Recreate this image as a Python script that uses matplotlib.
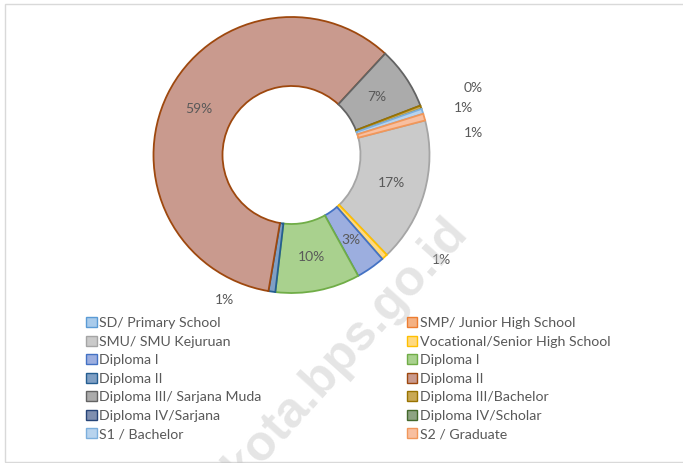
import matplotlib.pyplot as plt
import numpy as np
from matplotlib.patches import Patch, Rectangle

plt.rcParams['font.family'] = ['Lato', 'DejaVu Sans']

# share of population by education (percent)
categories = ['SD/ Primary School', 'SMP/ Junior High School', 'SMU/ SMU Kejuruan',
              'Vocational/Senior High School', 'Diploma I', 'Diploma I', 'Diploma II',
              'Diploma II', 'Diploma III/ Sarjana Muda', 'Diploma III/Bachelor',
              'Diploma IV/Sarjana', 'Diploma IV/Scholar', 'S1 / Bachelor', 'S2 / Graduate']
values = [0, 0, 16.9, 0.7, 3.4, 9.9, 0.8, 59.2, 7.3, 0.4, 0, 0, 0.6, 0.8]

fills = ['#A9CBEB', '#F4B183', '#CACACA', '#FFD980', '#9CAEDF', '#A9D18E', '#7F9FC4',
         '#C99A8E', '#ABABAB', '#C9A955', '#7F8FB0', '#8EA383', '#B7D3EE', '#F8BFA0']
edges = ['#5B9BD5', '#ED7D31', '#A5A5A5', '#FFC000', '#4472C4', '#70AD47', '#255E91',
         '#9E480E', '#636363', '#997300', '#264478', '#43682B', '#7CAFDD', '#F1975A']

# outside labels: (angle shift in deg clockwise, radius)
outside = {3: (-12.6, 1.33), 6: (16.5, 1.16), 9: (0, 1.40), 12: (3, 1.29), 13: (9, 1.33)}

W, H = 683, 463
cx, cy, R = 291.5, 155, 138
L = 1.05

fig = plt.figure(figsize=(W / 100, H / 100), dpi=100)
fig.set_facecolor('white')

ax = fig.add_axes([(cx - L * R) / W, (H - cy - L * R) / H, 2 * L * R / W, 2 * L * R / H])
wedges, _ = ax.pie(values, colors=fills, startangle=14.5, counterclock=False,
                   wedgeprops=dict(width=0.5, linewidth=1.3))
ax.set_xlim(-L, L)
ax.set_ylim(-L, L)
ax.axis('off')

total = sum(values)
for i, w in enumerate(wedges):
    w.set_edgecolor(edges[i])
    if values[i] == 0:
        w.set_visible(False)
        continue
    mid = 90 - (w.theta1 + w.theta2) / 2
    r = 0.75
    if i in outside:
        mid += outside[i][0]
        r = outside[i][1]
    t = np.radians(mid)
    ax.text(r * np.sin(t), r * np.cos(t), f"{values[i] / total * 100:.0f}%",
            ha='center', va='center', fontsize=10, color='#595959')

handles = [Patch(facecolor=fills[i], edgecolor=edges[i], linewidth=1) for i in range(len(categories))]
common = dict(frameon=False, fontsize=10.2, labelcolor='#595959', handlelength=0.75,
              handleheight=0.75, handletextpad=0.2, labelspacing=0.45, borderpad=0,
              borderaxespad=0, loc='upper left')
fig.legend(handles[0::2], categories[0::2], bbox_to_anchor=(86 / W, 1 - 317 / H), **common)
fig.legend(handles[1::2], categories[1::2], bbox_to_anchor=(406.7 / W, 1 - 317 / H), **common)

fig.text(346 / W, 1 - 350 / H, 'kota.bps.go.id', rotation=48, rotation_mode='anchor',
         ha='center', va='center', fontsize=36, fontweight='bold',
         family='Liberation Sans', color='#BFBFBF', alpha=0.4, zorder=4)

fig.patches.append(Rectangle((5 / W, 1.5 / H), 1.0, 1 - 5.5 / H, transform=fig.transFigure,
                             fill=False, edgecolor='#D9D9D9', linewidth=1))

fig.savefig('out.png', dpi=100)
